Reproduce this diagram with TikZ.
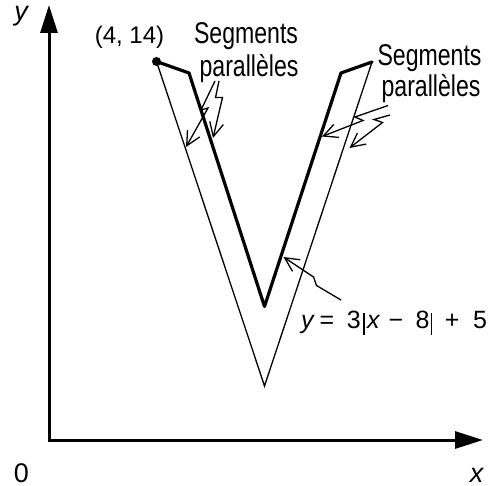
\documentclass[tikz,border=0pt]{standalone}
\usepackage{fontspec}
\setmainfont{Liberation Sans}
\usetikzlibrary{arrows.meta}
\newcommand{\absbar}{\rule[-0.28em]{0.055em}{0.9em}}
\newcommand{\cond}[1]{\scalebox{0.77}[1]{#1}}
\begin{document}
\begin{tikzpicture}[x=1pt,y=-1pt,
  axisline/.style={line width=3pt,line join=miter,{Triangle[length=28pt,width=17pt]}-{Triangle[length=28pt,width=17pt]}},
  thinline/.style={line width=1.3pt,line join=miter},
  thickline/.style={line width=3.2pt,line join=round,line cap=round},
  bolt/.style={line width=1.3pt,line join=miter,-{Straight Barb[length=14pt,width=14pt,line width=1.3pt]}},
  seglabel/.style={font=\fontsize{30}{33}\selectfont,inner sep=0pt,anchor=base},
  axislabel/.style={font=\fontsize{27}{30}\selectfont,inner sep=0pt,anchor=base}]
\useasboundingbox (0,0) rectangle (497,486);
% axes
\coordinate (O) at (49,440);
\coordinate (ytip) at (49,5);
\coordinate (xtip) at (483,440);
\draw[axisline] (ytip) -- (O) -- (xtip);
\node[axislabel] (ylab) at (21,21) {\itshape y};
\node[axislabel,text depth=0pt] (zero) at (21.5,482.5) {0};
\node[axislabel,text depth=0pt] (xlab) at (476.5,482.5) {\itshape x};
% graph points
\coordinate (P) at (156.5,61.5);
\coordinate (A) at (189,73);
\coordinate (V) at (264.5,306.5);
\coordinate (B) at (341,73);
\coordinate (C) at (372,62);
\coordinate (W) at (264.5,386);
\draw[thinline] (P) -- (W) -- (C);
\draw[thickline] (P) -- (A) -- (V) -- (B) -- (C);
\fill (P) circle (4.5);
% labels
\node[anchor=base,inner sep=0pt,font=\fontsize{24}{28}\selectfont] (plab) at (129.5,44) {(4, 14)};
\node[seglabel] (segL) at (246,44) {\cond{Segments}};
\node[seglabel] (parL) at (249,76.5) {\cond{parallèles}};
\node[seglabel] (segR) at (429.5,65.5) {\cond{Segments}};
\node[seglabel] (parR) at (431,96.5) {\cond{parallèles}};
\node[anchor=base west,inner sep=0pt,font=\fontsize{25}{30}\selectfont] (eq) at (301,328)
  {{\itshape y}\hspace{6pt}=\hspace{12.5pt}3\hspace{2.5pt}\absbar\hspace{2.5pt}{\itshape x}\hspace{9pt}−\hspace{12.5pt}8\hspace{1.5pt}\absbar\hspace{12.5pt}+\hspace{13.5pt}5};
% lightning arrows
\coordinate (aS) at (215,81);   \coordinate (aE) at (186,147);
\coordinate (bS) at (219,81);   \coordinate (bE) at (213,138);
\coordinate (cS) at (388,105.5);\coordinate (cE) at (322,136.5);
\coordinate (dS) at (390,115);  \coordinate (dE) at (349.5,148);
\coordinate (eS) at (341,300);  \coordinate (eE) at (283.5,257);
\draw[bolt] (aS) -- (201,110) -- (208,108) -- (aE);
\draw[bolt] (bS) -- (215.5,97.5) -- (222.5,97.5) -- (bE);
\draw[bolt] (cS) -- (355,117) -- (363,120.5) -- (cE);
\draw[bolt] (dS) -- (374,119.5) -- (382.5,122.5) -- (dE);
\draw[bolt] (eS) -- (316.5,285.5) -- (313.5,277) -- (eE);
\end{tikzpicture}
\end{document}
